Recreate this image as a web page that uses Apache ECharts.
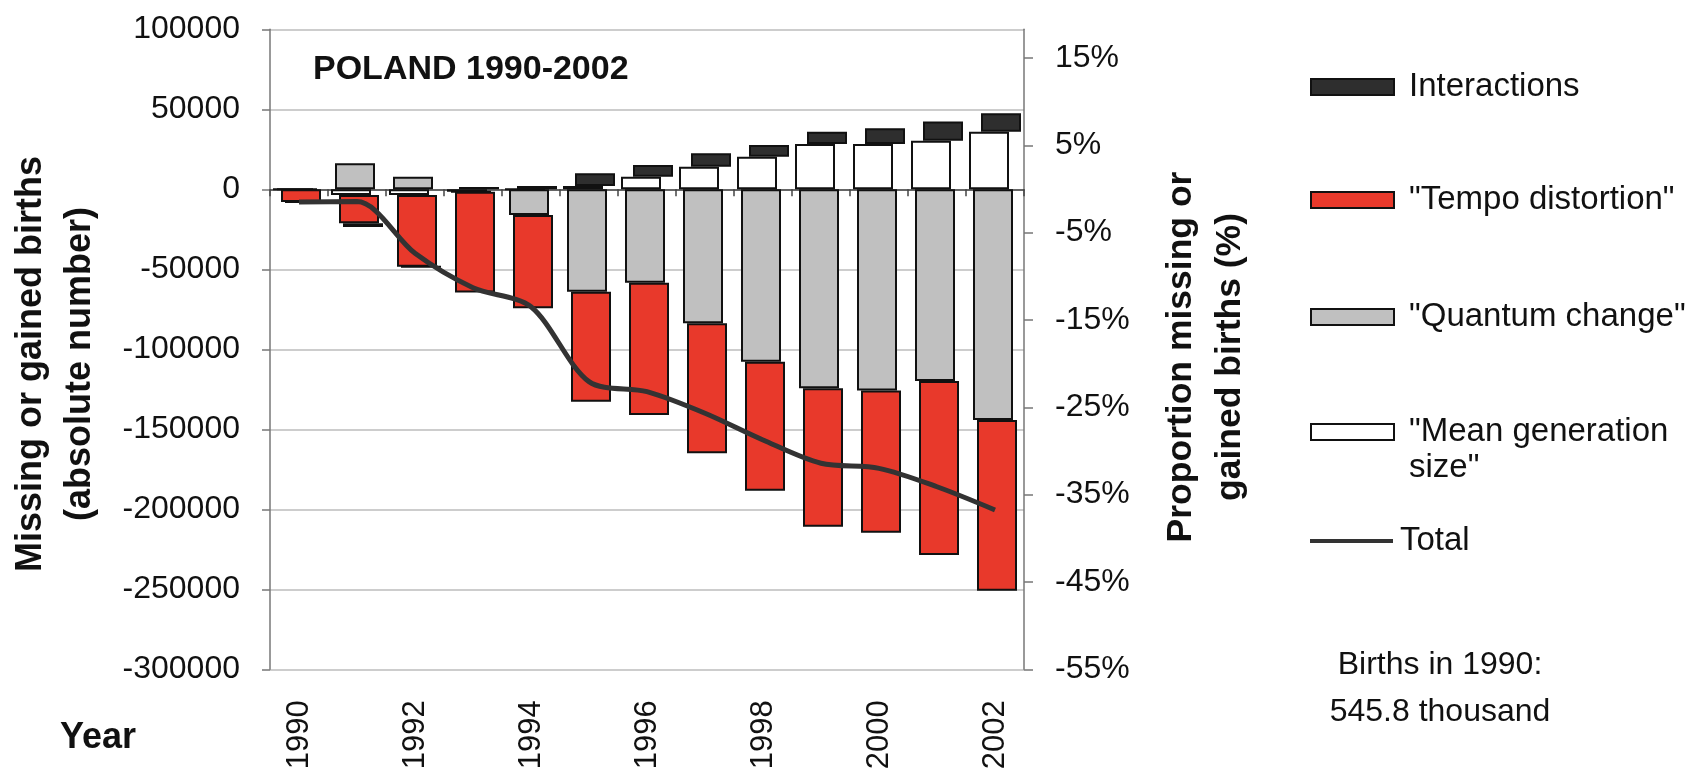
<!DOCTYPE html>
<html>
<head>
<meta charset="utf-8">
<title>Poland 1990-2002</title>
<script src="https://cdn.jsdelivr.net/npm/echarts@6/dist/echarts.min.js"></script>
<style>
  html, body { margin: 0; padding: 0; background: #fff; }
  #chart { width: 1707px; height: 775px; }
</style>
</head>
<body>
<div id="chart"></div>
<script>
// values (births, absolute number)
const years = ['1990', '1991', '1992', '1993', '1994', '1995', '1996', '1997', '1998', '1999', '2000', '2001', '2002'];
const meanGen = [0, -3600, -3600, -1500, 0, 2000, 7900, 14100, 20400, 28300, 28300, 30400, 36000];
const quantum = [0, 16250, 7900, 0, -16000, -64000, -58400, -83750, -107750, -124400, -125800, -119800, -144200];
const tempo = [-8000, -17650, -44800, -63000, -58300, -68750, -82600, -81250, -80650, -86500, -88800, -108800, -106700];
const interactions = [0, -2250, 0, 1500, 2000, 8000, 7300, 8400, 7300, 7700, 9800, 11900, 11500];
const total = [-8000, -7700, -40000, -61500, -73400, -120200, -126500, -140000, -156700, -171250, -174400, -185900, -200400];
const births1990 = 545800;
const rightTicks = [-55, -45, -35, -25, -15, -5, 5, 15];

const FONT = "'Liberation Sans', Arial, sans-serif";
const TXT = '#111';

const chart = echarts.init(document.getElementById('chart'));

const leftMin = -300000, leftMax = 100000;
// right axis is the left one divided by the births of 1990
const rightMin = -55;
const rightMax = rightMin + (leftMax - leftMin) / births1990 * 100;

const barBase = { type: 'bar', barWidth: 40, barGap: '-90%', xAxisIndex: 0, yAxisIndex: 0 };
let hid = 0;
function helper(stack, data) {
  hid++;
  return Object.assign({}, barBase, {
    name: 'base' + hid, stack: stack, data: data, silent: true,
    itemStyle: { color: 'rgba(0,0,0,0)', borderWidth: 0 },
    emphasis: { disabled: true }
  });
}
function bars(name, stack, data, color) {
  return Object.assign({}, barBase, {
    name: name, stack: stack, data: data,
    itemStyle: { color: color, borderColor: '#111', borderWidth: 2 }
  });
}

const legendText = { fontFamily: FONT, fontSize: 33, color: TXT, lineHeight: 36, padding: [0, 0, 0, 10] };
const legendBase = {
  orient: 'vertical', left: 1310, itemWidth: 83, itemHeight: 16, padding: 0,
  selectedMode: false, textStyle: legendText
};

const option = {
  backgroundColor: '#fff',
  animation: false,
  title: {
    text: 'POLAND 1990-2002', left: 313, top: 53, padding: 0,
    textStyle: { fontFamily: FONT, fontSize: 34, fontWeight: 'bold', color: TXT, lineHeight: 34 }
  },
  legend: [
    Object.assign({}, legendBase, { top: 87 - 18, data: [{ name: 'Interactions', icon: 'rect' }] }),
    Object.assign({}, legendBase, { top: 200 - 18, data: [{ name: '"Tempo distortion"', icon: 'rect' }] }),
    Object.assign({}, legendBase, { top: 317 - 18, data: [{ name: '"Quantum change"', icon: 'rect' }] }),
    Object.assign({}, legendBase, {
      top: 432 - 54, data: [{ name: '"Mean generation size"', icon: 'rect' }],
      formatter: () => ' \n"Mean generation\nsize"'
    }),
    Object.assign({}, legendBase, {
      top: 541 - 18, itemHeight: 4, data: [{ name: 'Total', icon: 'rect' }],
      textStyle: Object.assign({}, legendText, { padding: [0, 0, 0, 2] })
    })
  ],
  grid: { left: 270, right: 683, top: 29.3, bottom: 105.7, containLabel: false },
  xAxis: [
    {
      type: 'category', data: years, position: 'bottom',
      axisLine: { show: false, onZero: false },
      axisTick: { show: false },
      axisLabel: { interval: 1, rotate: 90, margin: 31, fontFamily: FONT, fontSize: 31, color: TXT }
    },
    {
      type: 'category', data: years, position: 'top',
      axisLine: { show: true, onZero: true, lineStyle: { color: '#444', width: 1.5 } },
      axisTick: { show: true, inside: true, length: 7, lineStyle: { color: '#444', width: 1.5 } },
      axisLabel: { show: false }
    }
  ],
  yAxis: [
    {
      type: 'value', min: leftMin, max: leftMax, interval: 50000, position: 'left',
      axisLine: { show: true, lineStyle: { color: '#777', width: 1.5 } },
      axisTick: { show: true, length: 8, lineStyle: { color: '#777', width: 1.5 } },
      axisLabel: { margin: 30, fontFamily: FONT, fontSize: 32, color: TXT, formatter: v => String(v) },
      splitLine: { show: true, lineStyle: { color: '#bdbdbd', width: 1.5 } }
    },
    {
      type: 'value', min: rightMin, max: rightMax, interval: 10, position: 'right',
      axisLine: { show: true, lineStyle: { color: '#777', width: 1.5 } },
      axisTick: { show: true, length: 9, customValues: rightTicks, lineStyle: { color: '#777', width: 1.5 } },
      axisLabel: {
        margin: 31, fontFamily: FONT, fontSize: 32, color: TXT, customValues: rightTicks,
        formatter: v => Math.round(v) + '%'
      },
      splitLine: { show: false }
    }
  ],
  graphic: [
    {
      type: 'text', x: 56, y: 364, rotation: Math.PI / 2,
      style: {
        text: 'Missing or gained births\n(absolute number)', fontFamily: FONT, fontSize: 36,
        fontWeight: 'bold', fill: TXT, align: 'center', verticalAlign: 'middle', lineHeight: 49
      }
    },
    {
      type: 'text', x: 1206, y: 357, rotation: Math.PI / 2,
      style: {
        text: 'Proportion missing or\ngained births (%)', fontFamily: FONT, fontSize: 35.5,
        fontWeight: 'bold', fill: TXT, align: 'center', verticalAlign: 'middle', lineHeight: 49
      }
    },
    {
      type: 'text', x: 60, y: 738,
      style: { text: 'Year', fontFamily: FONT, fontSize: 36, fontWeight: 'bold', fill: TXT, align: 'left', verticalAlign: 'middle' }
    },
    {
      type: 'text', x: 1440, y: 665,
      style: { text: 'Births in 1990:', fontFamily: FONT, fontSize: 32, fill: TXT, align: 'center', verticalAlign: 'middle' }
    },
    {
      type: 'text', x: 1440, y: 712,
      style: { text: '545.8 thousand', fontFamily: FONT, fontSize: 32, fill: TXT, align: 'center', verticalAlign: 'middle' }
    }
  ],
  series: [
    bars('"Mean generation size"', 'w', meanGen, '#ffffff'),
    helper('g', meanGen),
    bars('"Quantum change"', 'g', quantum, '#c0c0c0'),
    helper('r', meanGen),
    helper('r', quantum),
    bars('"Tempo distortion"', 'r', tempo, '#e8392b'),
    helper('k', meanGen),
    helper('k', quantum),
    helper('k', tempo),
    bars('Interactions', 'k', interactions, '#2e2e2e'),
    {
      type: 'line', name: 'Total', data: total, xAxisIndex: 0, yAxisIndex: 0,
      smooth: 0.3, symbol: 'none', z: 5,
      lineStyle: { color: '#333', width: 5 }, itemStyle: { color: '#333' }
    }
  ]
};

chart.setOption(option);
window.onresize = () => chart.resize();
</script>
</body>
</html>
